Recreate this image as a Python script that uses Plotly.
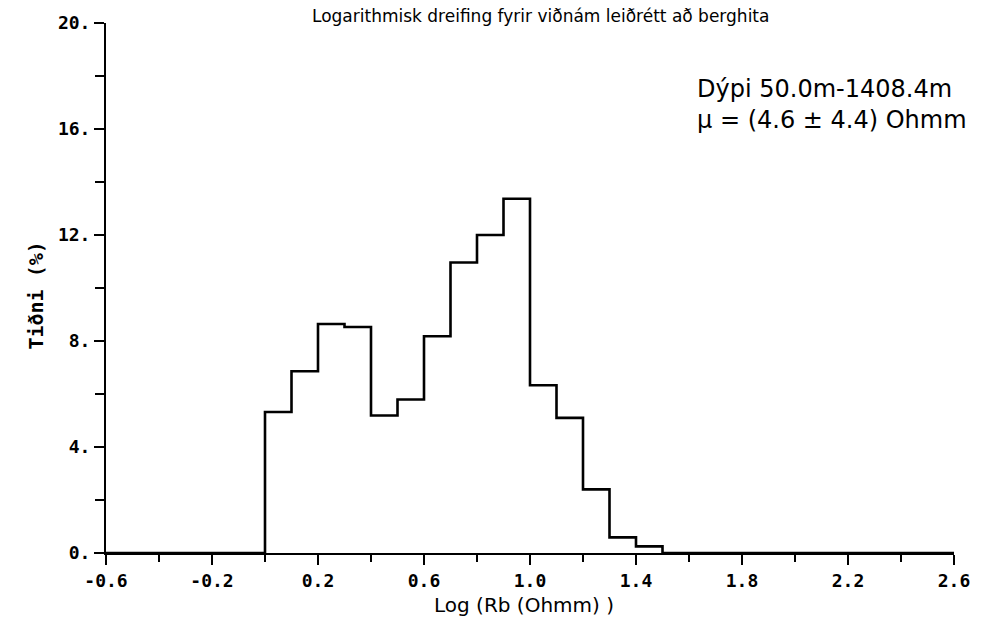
import plotly.graph_objects as go

# ---- data ----
bin_left = [0.0, 0.1, 0.2, 0.3, 0.4, 0.5, 0.6, 0.7, 0.8, 0.9, 1.0, 1.1, 1.2, 1.3, 1.4]
bin_width = 0.1
freq_pct = [5.32, 6.86, 8.64, 8.53, 5.19, 5.79, 8.18, 10.96, 12.00, 13.37,
            6.33, 5.10, 2.40, 0.59, 0.25]

x_range = [-0.6, 2.6]
y_range = [0, 20]
x_tickvals = [-0.6, -0.2, 0.2, 0.6, 1.0, 1.4, 1.8, 2.2, 2.6]
x_ticktext = ["-0.6", "-0.2", "0.2", "0.6", "1.0", "1.4", "1.8", "2.2", "2.6"]
y_tickvals = [0, 4, 8, 12, 16, 20]
y_ticktext = ["0.", "4.", "8.", "12.", "16.", "20."]

title_text = "Logarithmisk dreifing fyrir viðnám leiðrétt að berghita"
x_title = "Log (Rb (Ohmm) )"
y_title = "Tiðni (%)"
info_lines = ["Dýpi 50.0m-1408.4m", "μ = (4.6 ± 4.4) Ohmm"]

# step outline built from bins
xs = [x_range[0]] + bin_left + [bin_left[-1] + bin_width, x_range[1]]
ys = [0] + freq_pct + [0, 0]

fig = go.Figure()
fig.add_trace(go.Scatter(x=xs, y=ys, mode="lines", line_shape="hv",
                         line=dict(color="black", width=2.6),
                         hoverinfo="skip", showlegend=False))

tick_font = dict(family="DejaVu Sans Mono", size=18, color="black", weight="bold")

fig.update_layout(
    width=982, height=619,
    margin=dict(l=106, r=24, t=20, b=66),
    paper_bgcolor="white", plot_bgcolor="white",
    showlegend=False,
    xaxis=dict(range=x_range, tickvals=x_tickvals, ticktext=x_ticktext,
               showgrid=False, zeroline=False, showline=True,
               linecolor="black", linewidth=2, ticks="outside",
               ticklen=10, tickwidth=2, tickcolor="black", tickfont=tick_font,
               minor=dict(tickvals=[-0.4, 0.0, 0.4, 0.8, 1.2, 1.6, 2.0, 2.4],
                          ticks="outside", ticklen=7, tickwidth=2,
                          tickcolor="black")),
    yaxis=dict(range=y_range, tickvals=y_tickvals, ticktext=y_ticktext,
               showgrid=False, zeroline=False, showline=True,
               linecolor="black", linewidth=2, ticks="outside",
               ticklen=10, tickwidth=2, tickcolor="black", tickfont=tick_font,
               minor=dict(tickvals=[2, 6, 10, 14, 18], ticks="outside",
                          ticklen=9, tickwidth=2, tickcolor="black")),
)

annotations = [
    dict(text=title_text, xref="paper", yref="paper", x=0.512, y=1.0355,
         xanchor="center", yanchor="top", showarrow=False,
         font=dict(family="DejaVu Sans", size=17, color="black")),
    dict(text=x_title, xref="paper", yref="paper", x=0.493, y=-0.072,
         xanchor="center", yanchor="top", showarrow=False,
         font=dict(family="DejaVu Sans", size=20, color="black")),
    dict(text=y_title, xref="paper", yref="paper", x=-0.083, y=0.485,
         xanchor="center", yanchor="middle", textangle=-90, showarrow=False,
         font=dict(family="DejaVu Sans Mono", size=20, color="black", weight="bold")),
    dict(text="<br>".join(info_lines), xref="paper", yref="paper", x=0.694, y=0.905,
         xanchor="left", yanchor="top", align="left", showarrow=False,
         font=dict(family="DejaVu Sans", size=24, color="black")),
]
fig.update_layout(annotations=annotations)

fig.write_html("out.html")
